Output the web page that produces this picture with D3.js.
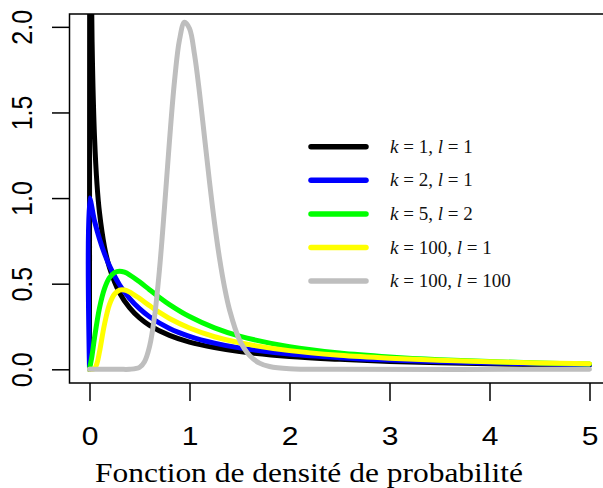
<!DOCTYPE html>
<html>
<head>
<meta charset="utf-8">
<script src="https://cdn.jsdelivr.net/npm/d3@7"></script>
<style>
  body { margin: 0; background: #fff; }
  .axis text { font-family: "Liberation Sans", Arial, sans-serif; font-size: 25px; fill: #000; }
  .axis line, .axis path { stroke: #000; stroke-width: 1.5; }
  .legend text { font-family: "Liberation Serif", serif; font-size: 19px; fill: #111; }
  .title { font-family: "Liberation Serif", serif; font-size: 28px; fill: #000; }
</style>
</head>
<body>
<div id="chartContainer"></div>
<script>
var width = 603, height = 488;
var box = { left: 69.5, right: 609.5, top: 14, bottom: 383 };

// tick labels
var xTicks = [0, 1, 2, 3, 4, 5];
var yTicks = [0, 0.5, 1, 1.5, 2];

// density values
var blackX = [0, 0.005, 0.01, 0.02, 0.03, 0.05, 0.075, 0.1, 0.15, 0.2, 0.3, 0.4, 0.5, 0.6, 0.8, 1, 1.25, 1.5, 2, 2.5, 3, 3.5, 4, 4.5, 5];
var blackY = [0, 4.48, 3.15, 2.21, 1.78, 1.36, 1.08, 0.915, 0.715, 0.593, 0.447, 0.36, 0.3, 0.257, 0.198, 0.159, 0.127, 0.104, 0.075, 0.058, 0.046, 0.038, 0.032, 0.027, 0.024];

var blueX = [0, 0, 0.05, 0.1, 0.15, 0.2, 0.3, 0.4, 0.5, 0.6, 0.8, 1, 1.25, 1.5, 2, 2.5, 3, 3.5, 4, 4.5, 5];
var blueY = [0, 1, 0.867, 0.761, 0.675, 0.604, 0.494, 0.414, 0.354, 0.307, 0.239, 0.193, 0.153, 0.125, 0.089, 0.068, 0.054, 0.044, 0.037, 0.032, 0.027];

var greenX = [0, 0.025, 0.05, 0.1, 0.15, 0.2, 0.25, 0.3, 0.35, 0.4, 0.5, 0.6, 0.7, 0.8, 1, 1.25, 1.5, 2, 2.5, 3, 3.5, 4, 4.5, 5];
var greenY = [0, 0.079, 0.183, 0.358, 0.471, 0.535, 0.565, 0.573, 0.567, 0.552, 0.511, 0.465, 0.42, 0.378, 0.308, 0.242, 0.194, 0.132, 0.095, 0.072, 0.056, 0.045, 0.037, 0.031];

var yellowX = [0, 0.025, 0.05, 0.075, 0.1, 0.15, 0.2, 0.25, 0.3, 0.35, 0.4, 0.5, 0.6, 0.7, 0.8, 1, 1.25, 1.5, 2, 2.5, 3, 3.5, 4, 4.5, 5];
var yellowY = [0, 0, 0.004, 0.035, 0.102, 0.263, 0.379, 0.439, 0.462, 0.463, 0.452, 0.414, 0.372, 0.332, 0.297, 0.241, 0.19, 0.155, 0.109, 0.082, 0.065, 0.053, 0.044, 0.037, 0.032];

var greyX = [0, 0.3, 0.4, 0.5, 0.55, 0.6, 0.65, 0.7, 0.75, 0.8, 0.85, 0.9, 0.95, 1, 1.05, 1.1, 1.15, 1.2, 1.25, 1.3, 1.35, 1.4, 1.5, 1.6, 1.7, 1.8, 2, 2.5, 5];
var greyY = [0, 0, 0.0002, 0.011, 0.044, 0.132, 0.306, 0.584, 0.946, 1.336, 1.683, 1.924, 2.027, 1.99, 1.839, 1.615, 1.356, 1.095, 0.855, 0.649, 0.48, 0.348, 0.172, 0.081, 0.036, 0.016, 0.003, 0, 0];

var seriesK = [1, 2, 5, 100, 100];
var seriesL = [1, 1, 2, 1, 100];
var seriesColors = ["#000000", "#0000ff", "#00ff00", "#ffff00", "#bebebe"];
var seriesX = [blackX, blueX, greenX, yellowX, greyX];
var seriesY = [blackY, blueY, greenY, yellowY, greyY];

var svg = d3.select("#chartContainer")
  .append("svg")
  .attr("width", width)
  .attr("height", height);

// Scales (R style 4% padding)
var xScale = d3.scaleLinear().domain([-0.2, 5.2]).range([box.left, box.right]);
var yScale = d3.scaleLinear().domain([-0.08, 2.075]).range([box.bottom, box.top]);

svg.append("defs").append("clipPath")
  .attr("id", "plotClip")
  .append("rect")
  .attr("x", box.left)
  .attr("y", box.top)
  .attr("width", box.right - box.left)
  .attr("height", box.bottom - box.top);

// Curves
var lineValue = d3.line()
  .x(d => xScale(d[0]))
  .y(d => yScale(d[1]))
  .curve(d3.curveCatmullRom.alpha(0.5));

var curves = svg.append("g").attr("clip-path", "url(#plotClip)");
seriesX.forEach((xs, i) => {
  var pts = xs.map((x, j) => [x, seriesY[i][j]]);
  curves.append("path")
    .attr("d", lineValue(pts))
    .attr("fill", "none")
    .attr("stroke", seriesColors[i])
    .attr("stroke-width", 5)
    .attr("stroke-linejoin", "round")
    .attr("stroke-linecap", "round");
});

// Box
svg.append("rect")
  .attr("x", box.left)
  .attr("y", box.top)
  .attr("width", box.right - box.left)
  .attr("height", box.bottom - box.top)
  .attr("fill", "none")
  .attr("stroke", "#000")
  .attr("stroke-width", 1.5);

// Axes
var xAxis = d3.axisBottom(xScale).tickValues(xTicks).tickSize(18).tickSizeOuter(0).tickFormat(d3.format("d"));
var yAxis = d3.axisLeft(yScale).tickValues(yTicks).tickSize(17.5).tickSizeOuter(0).tickFormat(d3.format(".1f"));

var gx = svg.append("g")
  .attr("class", "axis")
  .attr("transform", "translate(0," + box.bottom + ")")
  .call(xAxis);
gx.select(".domain").remove();
gx.selectAll("text")
  .attr("y", null)
  .attr("dy", null)
  .attr("transform", "translate(0,62) scale(1.2,1)");

var gy = svg.append("g")
  .attr("class", "axis")
  .attr("transform", "translate(" + box.left + ",0)")
  .call(yAxis);
gy.select(".domain").remove();
gy.selectAll("text")
  .attr("x", null)
  .attr("dy", null)
  .attr("text-anchor", "middle")
  .attr("transform", "translate(-37.5,0) scale(1.2,1) rotate(-90)");

// Legend
var legend = svg.append("g").attr("class", "legend");
seriesK.forEach((k, i) => {
  var ly = 146.7 + i * 33.6;
  legend.append("line")
    .attr("x1", 311).attr("x2", 366)
    .attr("y1", ly).attr("y2", ly)
    .attr("stroke", seriesColors[i])
    .attr("stroke-width", 5.5)
    .attr("stroke-linecap", "round");
  var t = legend.append("text").attr("x", 390).attr("y", ly + 6);
  t.append("tspan").attr("font-style", "italic").text("k");
  t.append("tspan").text(" = " + k + ", ");
  t.append("tspan").attr("font-style", "italic").text("l");
  t.append("tspan").text(" = " + seriesL[i]);
});

// Title
svg.append("text")
  .attr("class", "title")
  .attr("x", 95)
  .attr("y", 481.5)
  .attr("textLength", 428)
  .attr("lengthAdjust", "spacingAndGlyphs")
  .text("Fonction de densité de probabilité");
</script>
</body>
</html>
